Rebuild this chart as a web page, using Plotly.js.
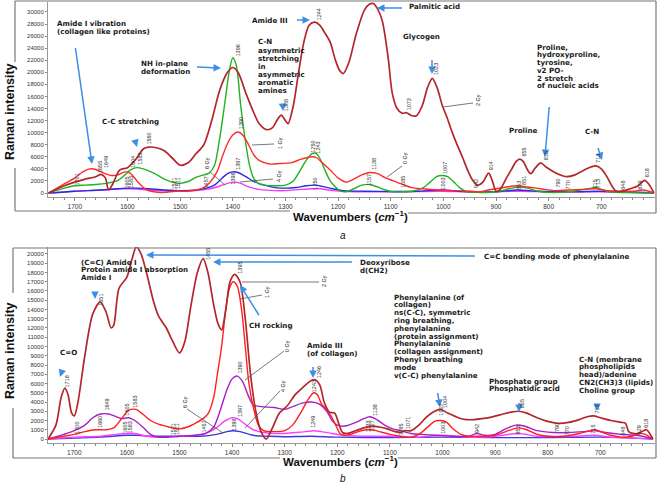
<!DOCTYPE html>
<html><head><meta charset="utf-8">
<script src="https://cdn.plot.ly/plotly-3.0.1.min.js"></script>
<style>html,body{margin:0;padding:0;background:#fff}#chart{width:659px;height:483px}</style>
</head><body><div id="chart"></div>
<script>
// ---------------- DATA: panel a ----------------
const xTicks = [1700,1600,1500,1400,1300,1200,1100,1000,900,800,700];
const xTickText = ['1700','1600','1500','1400','1300','1200','1100','1000','900','800','700'];

const aX2Gy = [1750,1720,1700,1680,1660,1650,1642,1636,1628,1615,1600,1585,1570,1560,1545,1530,1515,1500,1485,1470,1455,1440,1425,1410,1400,1390,1375,1362,1350,1336,1325,1315,1308,1300,1295,1285,1275,1265,1255,1244,1235,1225,1215,1205,1197,1190,1180,1165,1150,1140,1133,1125,1116,1105,1097,1088,1078,1070,1060,1051,1040,1030,1021,1012,1002,993,983,973,964,955,945,935,925,914,907,900,893,880,870,862,855,848,840,834,825,815,805,790,775,765,750,735,720,710,700,690,680,672,660,645,630,618,610,600];
const aY2Gy = [0,1200,1800,2300,2700,3100,2500,500,1500,3800,4200,5500,7300,7600,7500,7000,5800,4600,5000,6500,8000,12000,17000,20000,20800,20000,16500,13700,11500,10500,10800,12200,12900,12000,11500,14500,20000,25000,27800,28300,27800,26500,25000,22000,20300,19800,21500,26500,30300,31300,31400,30500,28500,22500,16500,14000,13200,13300,12800,12800,14500,17500,19000,17500,14500,12500,10000,7800,6000,4000,2200,1300,1800,3300,2000,300,500,2500,4000,5200,5600,5200,3800,3200,4200,5000,4300,3500,2900,2700,3000,3700,4300,4500,4000,2800,1200,300,300,700,1200,2100,1500,0];

const aX1Gy = [1750,1720,1700,1685,1672,1660,1645,1630,1618,1605,1595,1580,1565,1550,1530,1510,1490,1470,1455,1444,1430,1420,1410,1400,1390,1380,1370,1360,1350,1330,1310,1290,1270,1250,1240,1230,1215,1200,1185,1170,1155,1140,1125,1110,1095,1080,1060,1040,1010,980,950,930,915,900,880,860,840,815,790,760,730,710,690,670,640,620,600];
const aY1Gy = [0,1500,2500,3500,4000,3900,3300,2900,3000,3500,3300,1800,600,200,100,300,300,500,900,1700,3500,6000,8200,9600,10100,9500,8000,6300,5400,4800,4900,5000,5600,6000,5800,5000,3800,2500,1800,2300,3000,3400,3200,2500,2000,1500,900,700,500,400,300,200,500,700,1000,1200,1000,700,400,500,600,700,400,300,300,500,0];

const aX6Gy = [1750,1720,1700,1680,1660,1640,1620,1605,1595,1583,1570,1550,1530,1515,1500,1485,1470,1455,1445,1435,1425,1415,1407,1400,1393,1385,1375,1368,1360,1350,1340,1320,1300,1285,1273,1260,1250,1243,1235,1225,1215,1205,1195,1185,1170,1155,1140,1125,1110,1095,1080,1060,1040,1025,1013,1003,992,980,968,955,940,900,880,865,855,840,820,800,780,760,740,720,710,700,685,670,600];
const aY6Gy = [0,800,1200,1300,1400,1600,2000,3000,3800,4200,4000,3300,2300,1800,1600,1900,2600,3000,3300,4500,9000,15000,20000,22400,21000,14500,8000,4500,2400,1500,1300,1200,1300,2000,3600,5500,6500,6600,5800,3800,2000,1000,300,200,700,1300,1400,1000,500,200,200,300,800,1800,2700,2900,2700,1800,800,200,100,200,600,900,1000,800,300,100,100,200,500,800,900,600,200,100,0];

const aX4Gy = [1750,1700,1650,1620,1600,1580,1560,1530,1500,1470,1450,1435,1420,1410,1400,1390,1375,1360,1340,1320,1300,1280,1260,1245,1230,1210,1190,1150,1100,1050,1000,970,900,860,820,750,710,650,600];
const aY4Gy = [0,300,500,700,800,800,700,500,400,500,800,1300,2500,3200,3500,3400,2700,1900,1300,900,800,900,1200,1300,1100,700,400,300,250,300,500,300,200,500,300,200,300,200,0];

const aX0Gy = [1750,1700,1650,1610,1590,1560,1520,1500,1470,1450,1430,1410,1397,1385,1370,1350,1320,1300,1270,1250,1235,1210,1180,1100,1000,950,855,800,700,650,600];
const aY0Gy = [0,300,500,700,700,500,300,300,400,600,1000,1600,1800,1600,1000,600,400,400,600,700,700,400,250,200,300,150,300,200,200,100,0];

const aPeakText = ['1244','1396','1390','1308','1560','1583','1604','1649','1655','1701','1605','1583','1521','1511','1457','1398','1397','1250','1243','1250','1138','1157','1085','1073','1023','1007','1003','942','914','855','853','851','815','790','770','715','713','713','648','629','618'];
const aPeakX =    [1236,  1390,  1383,  1300,  1561,  1577,  1590,  1641,  1652,  1696,  1601,  1594,  1512,  1505,  1450,  1400,  1390,  1247,  1238,  1243,  1132,  1143,  1077,  1066,  1015,  998,   1001,  937,   909,   846,   855,   846,   806,   782,   763,   712,   705,   706,   658,   626,   613];
const aPeakY =    [28300, 22300, 10200, 13300, 7700,  4300,  3800,  3800,  3000,  900,   400,   400,   200,   200,   500,   1000,  3500,  6400,  6200,  300,   3500,  900,   500,   13300, 19300, 2900,  200,   500,   3400,  5700,  200,   1000,  5100,  500,   200,   500,   500,   4600,  200,   200,   2200];

// ---------------- DATA: panel b ----------------
const bX2Gy = [1750,1735,1725,1718,1712,1705,1700,1693,1680,1665,1651,1640,1630,1625,1615,1600,1590,1582,1573,1562,1550,1540,1525,1515,1500,1490,1478,1466,1455,1446,1435,1427,1420,1412,1404,1395,1385,1375,1365,1355,1345,1335,1325,1310,1295,1280,1265,1250,1242,1233,1225,1215,1205,1198,1190,1180,1165,1150,1135,1120,1105,1090,1080,1071,1060,1045,1030,1015,1004,990,970,955,940,925,905,885,870,855,840,820,800,781,760,740,725,713,700,680,660,652,646,638,628,618,612,605,600];
const bY2Gy = [0,1500,4500,5500,4800,2800,2500,4000,9000,13500,14800,13800,12000,12300,16300,17500,19500,20800,20000,17800,15000,13300,12000,10800,9300,10500,14500,18000,19500,18000,14500,12500,11800,14000,17000,17800,17000,13000,7000,3000,800,0,1000,2800,3600,4800,5600,6300,6400,5800,4000,2900,2800,1800,700,600,900,1200,1400,1300,1100,800,700,900,900,1500,2400,3000,3200,2800,2300,2100,2100,2200,2400,2700,2900,3000,2800,2300,1900,1700,1800,2100,2400,2500,2300,2000,1800,1700,800,600,600,900,1000,500,0];

const bX1Gy = [1750,1720,1700,1680,1660,1640,1625,1610,1597,1583,1570,1555,1540,1520,1500,1485,1470,1455,1445,1435,1428,1420,1412,1405,1398,1390,1382,1375,1368,1360,1350,1340,1320,1300,1285,1270,1255,1245,1238,1230,1220,1212,1203,1195,1188,1175,1160,1145,1133,1120,1100,1080,1060,1045,1030,1015,1004,992,980,965,950,930,900,880,865,855,840,820,800,770,740,720,710,700,680,660,640,625,615,600];
const bY1Gy = [0,300,500,800,1000,1000,1200,2200,3100,3200,2700,2000,1600,1300,1100,1300,1700,2200,2800,4500,7000,10000,14000,16300,17000,16500,14000,10000,6000,3500,1500,900,800,900,1500,2800,4300,5000,4800,3800,3200,2500,1500,600,400,500,800,1000,1000,800,500,300,200,500,1200,1900,2000,1800,1100,500,300,300,400,800,1100,1200,1000,500,300,300,600,900,1000,800,400,200,300,600,500,0];

const bX0Gy = [1750,1720,1700,1680,1665,1650,1635,1620,1610,1597,1585,1570,1555,1540,1520,1500,1470,1450,1435,1422,1410,1400,1390,1380,1370,1360,1345,1320,1300,1285,1265,1250,1235,1220,1210,1200,1185,1165,1150,1138,1125,1110,1095,1080,1060,1040,1010,980,950,935,920,900,880,860,845,820,790,760,730,710,690,660,630,600];
const bY0Gy = [0,500,900,1500,2300,2700,2700,2400,2200,2300,2000,1300,500,200,200,300,400,600,1300,3200,5300,6500,6800,6200,4800,3700,3500,3400,3200,3500,3900,4000,3800,3000,2000,1500,1400,1800,2200,2400,2100,1500,1100,900,600,500,400,300,300,600,400,500,1100,1500,1400,900,700,700,800,900,700,500,400,0];

const bX4Gy = [1750,1700,1650,1620,1600,1585,1570,1550,1520,1500,1470,1450,1430,1415,1400,1390,1375,1360,1340,1320,1300,1280,1260,1245,1230,1210,1190,1150,1100,1050,1000,950,900,855,820,750,710,680,600];
const bY4Gy = [0,200,300,500,600,600,400,200,200,300,400,600,1200,1900,2300,2200,1600,1000,700,600,600,700,800,900,800,600,400,300,300,200,400,200,300,600,300,300,400,200,0];

const bX6Gy = [1750,1700,1650,1600,1580,1550,1500,1460,1430,1410,1398,1385,1360,1330,1300,1250,1200,1100,1000,900,800,700,600];
const bY6Gy = [0,100,200,400,400,300,300,300,500,800,900,800,400,300,250,300,200,150,200,150,150,200,0];

const bPeakText = ['1718','1651','1455','1395','1390','1397','1398','1649','1660','1700','1583','1605','1605','1583','1521','1511','1457','1246','1243','1249','1138','1133','1127','1085','1071','1004','1007','1003','942','855','853','790','770','713','715','648','629','618'];
const bPeakX =    [1713,  1649,  1445,  1384,  1384,  1386,  1398,  1637,  1651,  1694,  1584,  1600,  1603,  1594,  1512,  1505,  1453,  1236,  1245,  1246,  1128,  1140,  1133,  1078,  1067,  994,   1003,  998,   934,   850,   857,   782,   764,   706,   714,   657,   627,   612];
const bPeakY =    [5400,  14200, 19200, 17600, 6800,  2200,  700,   2900,  1000,  400,   3200,  2300,  400,   400,   200,   200,   500,   6400,  4800,  1000,  2300,  500,   500,   200,   900,   3100,  2300,  300,   400,   3100,  300,   500,   200,   2500,  400,   200,   300,   1000];

// ---------------- HELPERS ----------------
const W = 659, H = 483;
const PX = x => x / W, PY = y => 1 - y / H;
const FT = 'DejaVu Sans, Verdana, sans-serif';
const annotations = [];
const shapes = [];

function txt(x, y, s, size) {
  annotations.push({xref:'paper', yref:'paper', x:PX(x), y:PY(y), xanchor:'left', yanchor:'middle',
    text:s, showarrow:false, font:{family:FT, size:size||7.1, weight:'bold', color:'#1a1a1a'}});
}
function block(x, y0, lh, lines) { lines.forEach((s,i)=>txt(x, y0 + i*lh, s)); }
function arrow(tx, ty, hx, hy) {
  annotations.push({xref:'paper', yref:'paper', x:PX(hx), y:PY(hy), ax:tx-hx, ay:ty-hy,
    axref:'pixel', ayref:'pixel', text:' ', showarrow:true, arrowhead:2, arrowsize:1,
    arrowwidth:1.5, arrowcolor:'#3b8fe6', standoff:0, startstandoff:0});
}
function gy(x, y, s, x0, y0, x1, y1) {
  shapes.push({type:'line', xref:'paper', yref:'paper', x0:PX(x0), y0:PY(y0), x1:PX(x1), y1:PY(y1),
    line:{color:'#555', width:0.8}});
  annotations.push({xref:'paper', yref:'paper', x:PX(x), y:PY(y), xanchor:'center', yanchor:'middle',
    text:s, textangle:-90, showarrow:false, font:{family:'Liberation Sans, Arial', size:5.5, color:'#222'}});
}
function fline(x0, y0, x1, y1) {
  shapes.push({type:'line', xref:'paper', yref:'paper', x0:PX(x0), y0:PY(y0), x1:PX(x1), y1:PY(y1),
    line:{color:'#777', width:1.2}});
}
function peaks(texts, xs, ys, xr, yr) {
  texts.forEach((t,i)=>annotations.push({xref:xr, yref:yr, x:xs[i], y:ys[i], xanchor:'center', yanchor:'bottom',
    text:t, textangle:-90, showarrow:false, font:{family:'Liberation Sans Narrow, Liberation Sans, Arial', size:5.5, color:'#333'}}));
}

// ---------------- TRACES ----------------
function tr(x, y, color, w, xa, ya, name) {
  return {x:x, y:y, type:'scatter', mode:'lines', name:name, xaxis:xa, yaxis:ya,
    line:{color:color, width:w, shape:'spline', smoothing:0.8}, hoverinfo:'skip'};
}
const data = [
  tr(aX0Gy, aY0Gy, '#f23cf0', 1.4, 'x', 'y', '0 Gy'),
  tr(aX4Gy, aY4Gy, '#2b2be0', 1.4, 'x', 'y', '4 Gy'),
  tr(aX6Gy, aY6Gy, '#1fb31f', 1.4, 'x', 'y', '6 Gy'),
  tr(aX1Gy, aY1Gy, '#ff2a2a', 1.4, 'x', 'y', '1 Gy'),
  tr(aX2Gy, aY2Gy, '#b3262b', 1.7, 'x', 'y', '2 Gy'),
  tr(bX6Gy, bY6Gy, '#3a3ad8', 1.4, 'x2', 'y2', '6 Gy'),
  tr(bX4Gy, bY4Gy, '#ff3dff', 1.4, 'x2', 'y2', '4 Gy'),
  tr(bX0Gy, bY0Gy, '#a51fc9', 1.4, 'x2', 'y2', '0 Gy'),
  tr(bX1Gy, bY1Gy, '#ff1f1f', 1.4, 'x2', 'y2', '1 Gy'),
  tr(bX2Gy, bY2Gy, '#b3262b', 1.7, 'x2', 'y2', '2 Gy')
];

// ---------------- ANNOTATIONS panel a ----------------
block(55, 23, 8, ['Amide I vibration', '(collagen like proteins)']);
arrow(74, 38, 92, 164);
txt(100, 121, 'C-C stretching');
arrow(132, 130, 137, 147);
block(139, 63, 8, ['NH in-plane', 'deformation']);
arrow(194, 67, 221, 68);
txt(250, 21, 'Amide III');
arrow(294, 20, 310, 20);
block(256, 42, 8.1, ['C-N', 'asymmetric', 'stretching', 'in', 'asymmetric', 'aromatic', 'amines']);
arrow(282, 97, 283, 111);
txt(407, 7, 'Palmitic acid');
arrow(405, 8, 377, 8);
txt(401, 37, 'Glycogen');
arrow(432, 50, 432, 74);
block(535, 47, 7.8, ['Proline,', 'hydroxyproline,', 'tyrosine,', 'v2 PO-', '2 stretch', 'of nucleic acids']);
arrow(550, 97, 545, 157);
txt(507, 130, 'Proline');
arrow(522, 139, 522, 148);
txt(583, 131, 'C-N');
arrow(595, 139, 602, 160);

gy(280, 143, '1 Gy', 252, 145, 274, 144);
gy(279, 176, '4 Gy', 240, 182, 273, 179);
gy(207, 163, '6 Gy', 210, 172, 225, 185);
gy(405, 158, '0 Gy', 387, 177, 402, 166);
gy(478, 100, '2 Gy', 443, 107, 473, 103);

peaks(aPeakText, aPeakX, aPeakY, 'x', 'y');

// ---------------- ANNOTATIONS panel b ----------------
txt(58, 352, 'C=O');
arrow(65, 362, 60, 377);
block(79, 262, 7.6, ['(C=C) Amide I', 'Protein amide I absorption', 'Amide I']);
arrow(95, 284, 95, 299);
txt(482, 256, 'C=C bending mode of phenylalanine');
arrow(478, 256, 146, 255);
block(358, 262, 8, ['Deoxyribose', 'd(CH2)']);
arrow(355, 262, 213, 262);
txt(247, 325, 'CH rocking');
arrow(262, 320, 240, 285);
block(305, 345, 8, ['Amide III', '(of collagen)']);
arrow(313, 357, 313, 378);
block(392, 297, 7.8, ['Phenylalanine (of', 'collagen)', 'ns(C-C), symmetric', 'ring breathing,', 'phenylalanine',
  '(protein assignment)', 'Phenylalanine', '(collagen assignment)', 'Phenyl breathing', 'mode', 'v(C-C) phenylalanine']);
arrow(436, 383, 440, 407);
block(487, 381, 7.6, ['Phosphate group', 'Phosphatidic acid']);
arrow(519, 393, 519, 412);
block(577, 359, 7.8, ['C-N (membrane', 'phospholipids', 'head)/adenine', 'CN2(CH3)3 (lipids)', 'Choline group']);
arrow(597, 397, 597, 411);

gy(324, 281, '2 Gy', 242, 282, 319, 282);
gy(267, 292, '1 Gy', 240, 299, 262, 295);
gy(287, 346, '0 Gy', 245, 380, 284, 351);
gy(283, 386, '4 Gy', 245, 428, 280, 391);
gy(185, 402, '6 Gy', 187, 409, 223, 433);

peaks(bPeakText, bPeakX, bPeakY, 'x2', 'y2');

// ---------------- TITLES ----------------
const TF = {family:'Liberation Sans, Arial', size:12.5, color:'#111'};
annotations.push({xref:'paper', yref:'paper', x:PX(10), y:PY(112), text:'<b>Raman intensity</b>', textangle:-90, showarrow:false, xanchor:'center', yanchor:'middle', font:TF});
annotations.push({xref:'paper', yref:'paper', x:PX(10), y:PY(351), text:'<b>Raman intensity</b>', textangle:-90, showarrow:false, xanchor:'center', yanchor:'middle', font:TF});
annotations.push({xref:'paper', yref:'paper', x:PX(350), y:PY(216), text:'<b>Wavenumbers (<i>cm</i><sup>−1</sup>)</b>', showarrow:false, xanchor:'center', yanchor:'middle', font:{family:'Liberation Sans, Arial', size:11.5, color:'#111'}});
annotations.push({xref:'paper', yref:'paper', x:PX(340), y:PY(461), text:'<b>Wavenumbers (<i>cm</i><sup>−1</sup>)</b>', showarrow:false, xanchor:'center', yanchor:'middle', font:{family:'Liberation Sans, Arial', size:11.5, color:'#111'}});
annotations.push({xref:'paper', yref:'paper', x:PX(343), y:PY(235), text:'<i>a</i>', showarrow:false, xanchor:'center', yanchor:'middle', font:{family:'Liberation Sans, Arial', size:10, color:'#111'}});
annotations.push({xref:'paper', yref:'paper', x:PX(343), y:PY(478), text:'<i>b</i>', showarrow:false, xanchor:'center', yanchor:'middle', font:{family:'Liberation Sans, Arial', size:10, color:'#111'}});

// ---------------- FRAMES ----------------
// panel a
fline(15, 1, 656, 1); fline(656, 1, 656, 213);
fline(15, 1, 15, 62); fline(15, 168, 15, 211);
fline(15, 211, 290, 211); fline(408, 213, 656, 213);
// panel b
fline(13, 248, 656, 248); fline(656, 248, 656, 458);
fline(13, 248, 13, 293); fline(13, 408, 13, 458);
fline(13, 458, 280, 458); fline(398, 458, 656, 458);

// ---------------- LAYOUT ----------------
const tickFont = {family:'Liberation Sans, Arial', size:6.5, color:'#333'};
function xax(range, anchor, d0, d1) {
  return {domain:[d0, d1], anchor:anchor, range:range, tickvals:xTicks, ticktext:xTickText, ticks:'outside', ticklen:3,
    tickcolor:'#888', tickfont:tickFont, showline:true, linecolor:'#999', linewidth:1, showgrid:false, zeroline:false,
    minor:{tickvals:[1740,1720,1680,1660,1640,1620,1580,1560,1540,1520,1480,1460,1440,1420,1380,1360,1340,1320,1280,1260,1240,1220,1180,1160,1140,1120,1080,1060,1040,1020,980,960,940,920,880,860,840,820,780,760,740,720,680,660,640,620],
      ticks:'outside', ticklen:2, tickcolor:'#888'}, fixedrange:true};
}
function yax(range, anchor, d0, d1, dt) {
  return {domain:[d0, d1], anchor:anchor, range:range, dtick:dt, tick0:0, tickformat:'d', ticks:'outside', ticklen:2,
    tickcolor:'#888', tickfont:{family:'Liberation Sans, Arial', size:6, color:'#333'}, showline:true, linecolor:'#999',
    linewidth:1, showgrid:false, zeroline:false, fixedrange:true};
}
const layout = {
  width:W, height:H, margin:{l:0, r:0, t:0, b:0}, paper_bgcolor:'#fff', plot_bgcolor:'#fff', showlegend:false,
  xaxis: xax([1751, 598], 'y', PX(48), PX(655)),
  yaxis: yax([-663, 31650], 'x', PY(197), PY(2), 2000),
  xaxis2: xax([1750, 596], 'y2', PX(48), PX(655)),
  yaxis2: yax([-432, 20755], 'x2', PY(443), PY(247), 1000),
  annotations: annotations, shapes: shapes
};
Plotly.newPlot('chart', data, layout, {staticPlot:true, displayModeBar:false});
</script>
</body></html>
